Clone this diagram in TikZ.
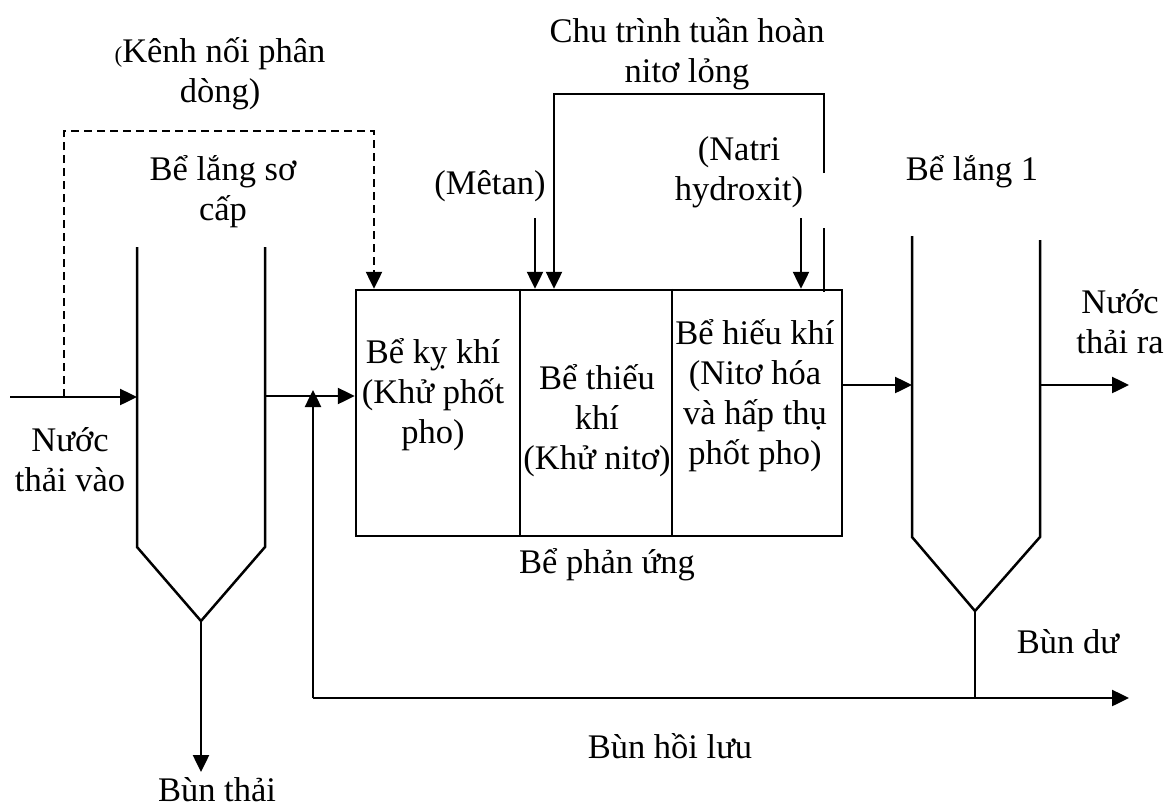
\documentclass[tikz,border=0pt]{standalone}
\usepackage{fontspec}
\setmainfont{Liberation Serif}
\usetikzlibrary{arrows.meta}
\tikzset{
  pipe/.style={line width=2.5pt},
  flow/.style={line width=2.5pt,-{Triangle[length=17pt,width=16pt]}},
  bypass/.style={line width=2.5pt,dash pattern=on 8pt off 5pt,-{Triangle[length=17pt,width=16pt]}},
  lbl/.style={align=center,inner sep=0pt,font=\fontsize{34.5}{40}\selectfont},
}
\begin{document}
\begin{tikzpicture}[x=1pt,y=-1pt]
\useasboundingbox (0,0) rectangle (1171,809);

% primary clarifier
\coordinate (p1t) at (137,247); \coordinate (p1b) at (137,547);
\coordinate (p2t) at (265,247); \coordinate (p2b) at (265,547);
\coordinate (pap) at (201,621);
\draw[pipe] (p1t) -- (p1b) -- (pap) -- (p2b) -- (p2t);

% secondary clarifier
\coordinate (s1t) at (912,236); \coordinate (s1b) at (912,537);
\coordinate (s2t) at (1040,240); \coordinate (s2b) at (1040,537);
\coordinate (sap) at (975,611);
\draw[pipe] (s1t) -- (s1b) -- (sap) -- (s2b) -- (s2t);

% reactor with three zones
\node[draw,pipe,inner sep=0pt,minimum width=486pt,minimum height=246pt] (react) at (599,413) {};
\draw[pipe] (react.north -| 520,0) -- (react.south -| 520,0);
\draw[pipe] (react.north -| 672,0) -- (react.south -| 672,0);

% inflow and bypass channel
\coordinate (in) at (10,397);
\coordinate (pin) at (137,397);
\draw[flow] (in) -- (pin);
\coordinate (bya) at (64,397);
\coordinate (byb) at (64,131);
\coordinate (byc) at (374,131);
\draw[bypass] (bya) -- (byb) -- (byc) -- (byc |- react.north);

% primary effluent to reactor
\coordinate (pout) at (265,396);
\draw[flow] (pout) -- (pout -| react.west);

% return sludge line
\coordinate (rl) at (313,698);
\coordinate (rup) at (313,390);
\coordinate (rend) at (1129,698);
\draw[flow] (rl) -- (rup);
\draw[flow] (rl) -- (rend);
\draw[pipe] (sap) -- (sap |- rl);

% primary sludge out
\coordinate (pw) at (201,772);
\draw[flow] (pap) -- (pw);

% reactor to secondary, final effluent
\coordinate (rout) at (842,385);
\draw[flow] (rout) -- (rout -| s1t);
\coordinate (sout) at (1040,385);
\coordinate (send) at (1129,385);
\draw[flow] (sout) -- (send);

% chemical dosing and internal recycle
\coordinate (me) at (535,218);
\draw[flow] (me) -- (me |- react.north);
\coordinate (na) at (801,218);
\draw[flow] (na) -- (na |- react.north);
\coordinate (rc1) at (824,173);
\coordinate (rc2) at (554,94);
\draw[flow] (rc1) |- (rc2) -- (rc2 |- react.north);
\draw[pipe] (824,228) -- (824,292);

% labels
\node[lbl] (tkenh) at (220,74) {{\fontsize{23}{26}\selectfont(}Kênh nối phân\\dòng)};
\node[lbl] (tprim) at (223,192) {Bể lắng sơ\\cấp};
\node[lbl] (tin) at (70,460) {Nước\\thải vào};
\node[lbl] (tsl) at (217,790) {Bùn thải};
\node[lbl] (tcyc) at (687,54) {Chu trình tuần hoàn\\nitơ lỏng};
\node[lbl] (tme) at (490,186) {(Mêtan)};
\node[lbl] (tna) at (739,172) {(Natri\\hydroxit)};
\node[lbl] (tsec) at (972,172) {Bể lắng 1};
\node[lbl] (tout) at (1120,322) {Nước\\thải ra};
\node[lbl] (tex) at (1068,642) {Bùn dư};
\node[lbl] (tre) at (607,565) {Bể phản ứng};
\node[lbl] (tret) at (670,746) {Bùn hồi lưu};
\node[lbl] (z1) at (433,395) {Bể kỵ khí\\(Khử phốt\\pho)};
\node[lbl] (z2) at (597,421) {Bể thiếu\\khí\\(Khử nitơ)};
\node[lbl] (z3) at (755,396) {Bể hiếu khí\\(Nitơ hóa\\và hấp thụ\\phốt pho)};
\end{tikzpicture}
\end{document}
